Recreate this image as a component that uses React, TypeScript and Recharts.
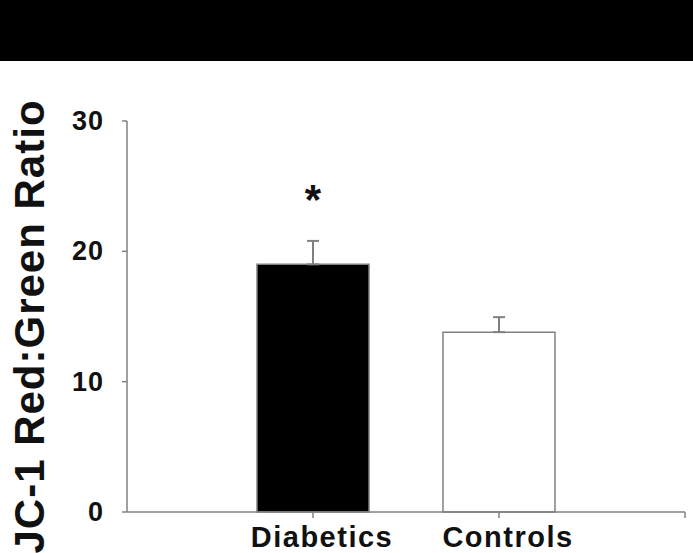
import React from 'react';
import { BarChart, Bar, Cell, XAxis, YAxis, ErrorBar, LabelList } from 'recharts';

const groups = ['Diabetics', 'Controls'];
const positions = [1, 2];
const ratios = [19.0, 13.8];
const errors = [1.8, 1.15];
const marks = ['*', ''];
const yTicks = [0, 10, 20, 30];

const fills = ['#000000', '#ffffff'];
const AXIS = '#808080';
const FONT = '"Liberation Sans", Arial, sans-serif';

const data = groups.map((name, i) => ({
  x: positions[i],
  name,
  value: ratios[i],
  err: [0, errors[i]],
  sig: marks[i],
}));

const XTick = (props: any) => {
  const { x, y, payload } = props;
  const idx = positions.indexOf(payload.value);
  const label = idx >= 0 ? groups[idx] : '';
  return (
    <text
      x={x + 9}
      y={y + 27}
      textAnchor="middle"
      fontFamily={FONT}
      fontWeight="bold"
      fontSize={29}
      letterSpacing={1.5}
      fill="#111"
    >
      {label}
    </text>
  );
};

const YTick = (props: any) => {
  const { x, y, payload } = props;
  return (
    <text
      x={x - 16}
      y={y + 9}
      textAnchor="end"
      fontFamily={FONT}
      fontWeight="bold"
      fontSize={27}
      letterSpacing={1}
      fill="#111"
    >
      {payload.value}
    </text>
  );
};

const YLabel = (props: any) => {
  const { viewBox } = props;
  const cx = 29;
  const cy = viewBox.y + viewBox.height / 2 + 10;
  return (
    <text
      x={cx}
      y={cy}
      transform={`rotate(-90, ${cx}, ${cy})`}
      textAnchor="middle"
      dominantBaseline="central"
      fontFamily={FONT}
      fontWeight="bold"
      fontSize={42}
      letterSpacing={1}
      fill="#111"
    >
      JC-1 Red:Green Ratio
    </text>
  );
};

const Star = (props: any) => {
  const { x, y, width, value } = props;
  if (!value) return null;
  return (
    <text
      x={x + width / 2}
      y={y - 50}
      textAnchor="middle"
      fontFamily={FONT}
      fontWeight="bold"
      fontSize={42}
      fill="#111"
    >
      {value}
    </text>
  );
};

export default function App() {
  return (
    <div style={{ position: 'absolute', left: 0, top: 0, width: 693, height: 553, background: '#fff', overflow: 'hidden' }}>
      <div style={{ position: 'absolute', left: 0, top: 0, width: 693, height: 61, background: '#000' }} />
      <BarChart
        width={693}
        height={553}
        data={data}
        margin={{ top: 121, right: 8, bottom: 0, left: 47 }}
      >
        <XAxis
          dataKey="x"
          type="number"
          domain={[0, 3]}
          ticks={[1, 2, 3]}
          allowDecimals={false}
          height={41}
          stroke={AXIS}
          strokeWidth={1.5}
          tickSize={6}
          tick={<XTick />}
        />
        <YAxis
          type="number"
          domain={[0, 30]}
          ticks={yTicks}
          width={80}
          stroke={AXIS}
          strokeWidth={1.5}
          tickSize={5}
          tick={<YTick />}
          label={<YLabel />}
        />
        <Bar dataKey="value" barSize={112} stroke={AXIS} strokeWidth={1.5} isAnimationActive={false}>
          {data.map((d, i) => (
            <Cell key={d.name} fill={fills[i]} />
          ))}
          <ErrorBar dataKey="err" direction="y" width={6} stroke={AXIS} strokeWidth={2} />
          <LabelList dataKey="sig" content={<Star />} />
        </Bar>
      </BarChart>
    </div>
  );
}
